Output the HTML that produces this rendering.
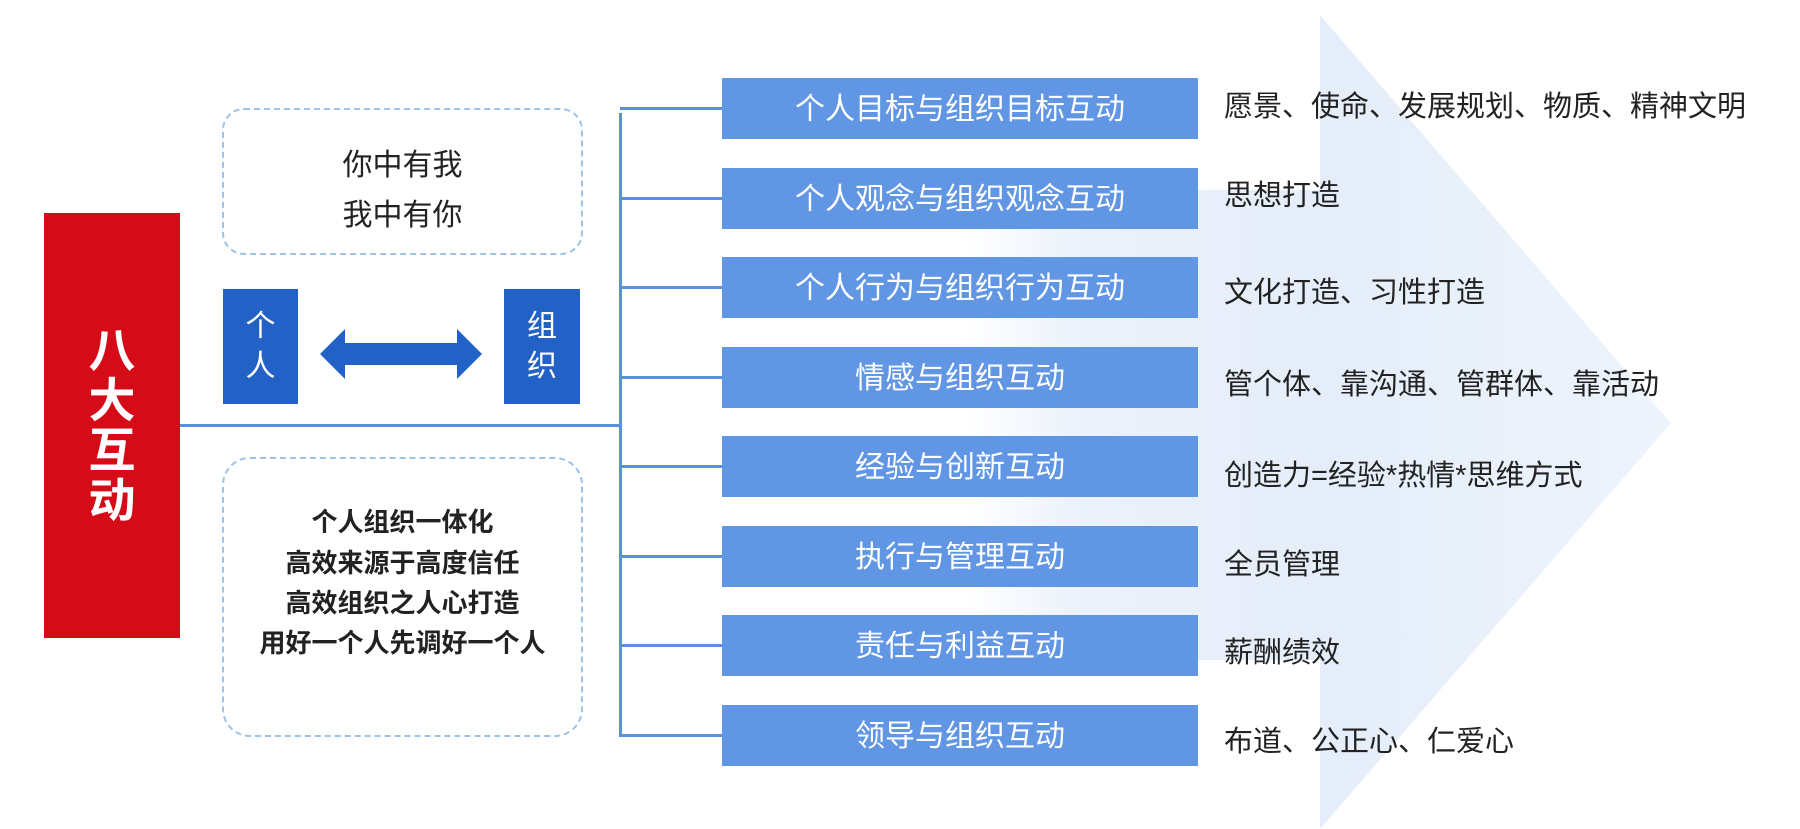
<!DOCTYPE html>
<html><head><meta charset="utf-8"><style>
body{margin:0;width:1800px;height:829px;overflow:hidden;background:#fff;font-family:"Liberation Sans","Noto Sans CJK SC",sans-serif;position:relative}
.a{position:absolute}
.rb{position:absolute;left:722px;width:476px;height:61px;background:#6096e4;color:#fff;font-size:30px;display:flex;align-items:center;justify-content:center;box-sizing:border-box;padding-bottom:5px}
.rt{position:absolute;left:1224px;font-size:29px;color:#222;line-height:34px}
.br{position:absolute;left:620px;width:102px;height:3px;background:#5b8fe0}
.dl{position:absolute;left:0;width:100%;text-align:center;color:#222}
</style></head><body>
<svg class="a" style="left:0;top:0" width="1800" height="829">
<defs><linearGradient id="g" x1="0" x2="1"><stop offset="0" stop-color="#eef3fb" stop-opacity="0"/><stop offset="0.3" stop-color="#edf2fb"/><stop offset="1" stop-color="#e4edf9"/></linearGradient>
<linearGradient id="g2" x1="0" x2="1"><stop offset="0" stop-color="#e4edf9"/><stop offset="1" stop-color="#eef4fc"/></linearGradient></defs>
<rect x="965" y="190" width="355" height="470" fill="url(#g)"/>
<polygon points="1320,15 1671,423 1320,829" fill="url(#g2)"/>
<polygon points="320,354 345,329 345,343 457,343 457,329 482,354 457,379 457,365 345,365 345,379" fill="#2262c6"/>
</svg>
<div class="a" style="left:44px;top:213px;width:136px;height:425px;background:#d50b18;color:#fff;font-size:47px;font-weight:bold;display:flex;align-items:center;justify-content:center;line-height:50px;text-align:center">八<br>大<br>互<br>动</div>
<div class="a" style="left:222px;top:108px;width:357px;height:143px;border:2px dashed #9cc4ea;border-radius:22px">
<div class="dl" style="top:30px;font-size:30px">你中有我</div><div class="dl" style="top:80px;font-size:30px">我中有你</div></div>
<div class="a" style="left:223px;top:289px;width:75px;height:115px;background:#2262c6;color:#fff;font-size:30px;display:flex;align-items:center;justify-content:center;text-align:center;line-height:40px">个<br>人</div>
<div class="a" style="left:504px;top:289px;width:76px;height:115px;background:#2262c6;color:#fff;font-size:30px;display:flex;align-items:center;justify-content:center;text-align:center;line-height:40px">组<br>织</div>
<div class="a" style="left:180px;top:424px;width:442px;height:3px;background:#5b8fe0"></div>
<div class="a" style="left:619px;top:113px;width:3px;height:624px;background:#5b8fe0"></div>
<div class="a" style="left:222px;top:457px;width:357px;height:276px;border:2px dashed #9cc4ea;border-radius:28px;font-weight:bold;font-size:26px">
<div class="dl" style="top:43px">个人组织一体化</div><div class="dl" style="top:84px">高效来源于高度信任</div><div class="dl" style="top:124px">高效组织之人心打造</div><div class="dl" style="top:164px">用好一个人先调好一个人</div></div>

<div class="br" style="top:107px"></div><div class="rb" style="top:78px">个人目标与组织目标互动</div><div class="rt" style="top:90px">愿景、使命、发展规划、物质、精神文明</div>
<div class="br" style="top:197px"></div><div class="rb" style="top:168px">个人观念与组织观念互动</div><div class="rt" style="top:179px">思想打造</div>
<div class="br" style="top:286px"></div><div class="rb" style="top:257px">个人行为与组织行为互动</div><div class="rt" style="top:276px">文化打造、习性打造</div>
<div class="br" style="top:376px"></div><div class="rb" style="top:347px">情感与组织互动</div><div class="rt" style="top:368px">管个体、靠沟通、管群体、靠活动</div>
<div class="br" style="top:465px"></div><div class="rb" style="top:436px">经验与创新互动</div><div class="rt" style="top:459px">创造力=经验*热情*思维方式</div>
<div class="br" style="top:555px"></div><div class="rb" style="top:526px">执行与管理互动</div><div class="rt" style="top:548px">全员管理</div>
<div class="br" style="top:644px"></div><div class="rb" style="top:615px">责任与利益互动</div><div class="rt" style="top:636px">薪酬绩效</div>
<div class="br" style="top:734px"></div><div class="rb" style="top:705px">领导与组织互动</div><div class="rt" style="top:725px">布道、公正心、仁爱心</div>
</body></html>
